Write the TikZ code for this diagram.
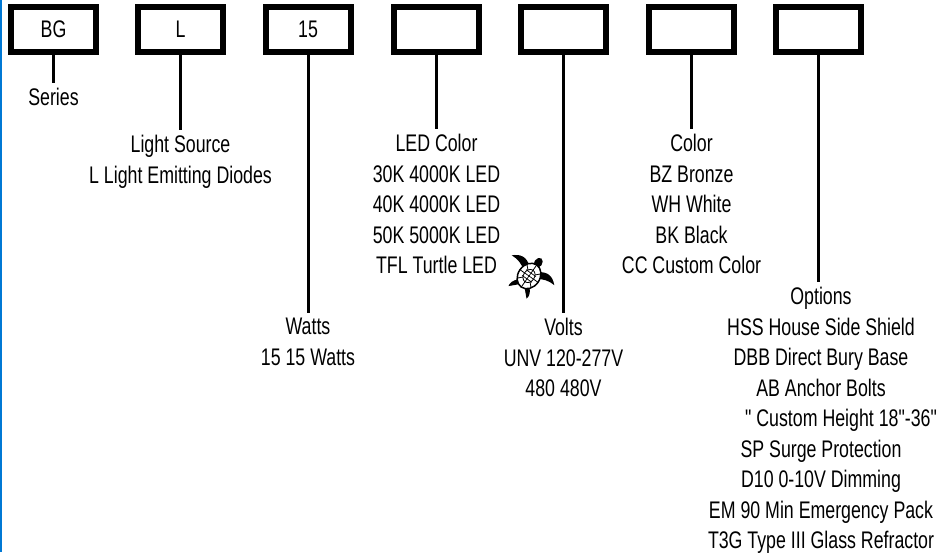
\documentclass[tikz,border=0pt]{standalone}
\usepackage{fontspec}
\setmainfont{Liberation Sans}[FakeStretch=0.74]
\newfontfamily\straightquotes{Liberation Sans}[FakeStretch=0.74]
\usetikzlibrary{positioning}
\definecolor{edgeblue}{RGB}{0,120,212}

\begin{document}
\begin{tikzpicture}[x=1pt,y=1pt]
\tikzstyle{every node}+=[inner sep=0pt]
\tikzstyle{codebox}=[draw=black, line width=6pt, minimum width=85pt, minimum height=45pt, font=\fontsize{24}{28}\selectfont]
\tikzstyle{caption}=[align=center, anchor=north, font=\fontsize{24}{30.5}\selectfont]
\tikzstyle{stem}=[black, line width=3pt, shorten >=5.5pt]
\useasboundingbox (0,0) rectangle (948,-552);
\fill [white] (0,0) rectangle (948,-552);
\draw [edgeblue, line width=2.4pt] (1.2,0) -- (1.2,-552);
% code boxes
\node [codebox] (series box) at (53.5,-29.5) {BG};
\node [codebox] (source box) at (180.5,-29.5) {L};
\node [codebox] (watts box) at (308,-29.5) {15};
\node [codebox] (led box) at (436.5,-29.5) {};
\node [codebox] (volts box) at (563.5,-29.5) {};
\node [codebox] (color box) at (691.5,-29.5) {};
\node [codebox] (options box) at (818.5,-29.5) {};
% captions
\node [caption] (series) at (53.5,-88) {Series};
\node [caption] (source) at (180.5,-135) {Light Source\\L Light Emitting Diodes};
\node [caption] (watts) at (308,-318) {Watts\\15 15 Watts};
\node [caption] (led) at (436.5,-134) {LED Color\\30K 4000K LED\\40K 4000K LED\\50K 5000K LED\\TFL Turtle LED};
\node [caption] (volts) at (563.5,-318) {Volts\\UNV 120-277V\\480 480V};
\node [caption] (color) at (691.5,-134) {Color\\BZ Bronze\\WH White\\BK Black\\CC Custom Color};
\node [caption] (options) at (821,-287) {Options\\HSS House Side Shield\\DBB Direct Bury Base\\AB Anchor Bolts\\\hspace*{40pt}{\straightquotes" Custom Height 18"-36"}\\SP Surge Protection\\D10 0-10V Dimming\\EM 90 Min Emergency Pack\\T3G Type III Glass Refractor};
% stems
\draw [stem] (series box.south) -- (series.north);
\draw [stem] (source box.south) -- (source.north);
\draw [stem] (watts box.south) -- (watts.north);
\draw [stem] (led box.south) -- (led.north);
\draw [stem] (volts box.south) -- (volts.north);
\draw [stem] (color box.south) -- (color.north);
\draw [stem] (options box.south) -- (options.north -| options box.south);
% turtle
\begin{scope}[shift={(529,-276)}, rotate=-35]
\fill [black] (5,8) .. controls (13,15) and (20,13) .. (26,7) .. controls (19,8) and (12,5) .. (8,2) -- cycle;
\fill [black] (-5,8) .. controls (-13,15) and (-20,13) .. (-26,7) .. controls (-19,8) and (-12,5) .. (-8,2) -- cycle;
\fill [black] (7,-9) .. controls (11,-13) and (12,-17) .. (11,-20) .. controls (8,-17) and (5,-14) .. (3,-12) -- cycle;
\fill [black] (-7,-9) .. controls (-11,-13) and (-12,-17) .. (-11,-20) .. controls (-8,-17) and (-5,-14) .. (-3,-12) -- cycle;
\fill [black] (0,16) ellipse (4 and 5.5);
\filldraw [fill=white, draw=black, line width=1.5pt] (0,0) ellipse (11 and 13.5);
\begin{scope}
\clip (0,0) ellipse (11 and 13.5);
\draw [black, line width=0.8pt] (0,0) ellipse (5.5 and 7);
\foreach \a in {0,45,...,315}
  \draw [black, line width=0.8pt] (\a:6) -- (\a:15);
\foreach \h in {-3.5,0,3.5}
  \draw [black, line width=0.7pt] (-6,\h) -- (6,\h);
\draw [black, line width=0.7pt] (0,7) -- (0,-7);
\end{scope}
\end{scope}
\end{tikzpicture}
\end{document}
